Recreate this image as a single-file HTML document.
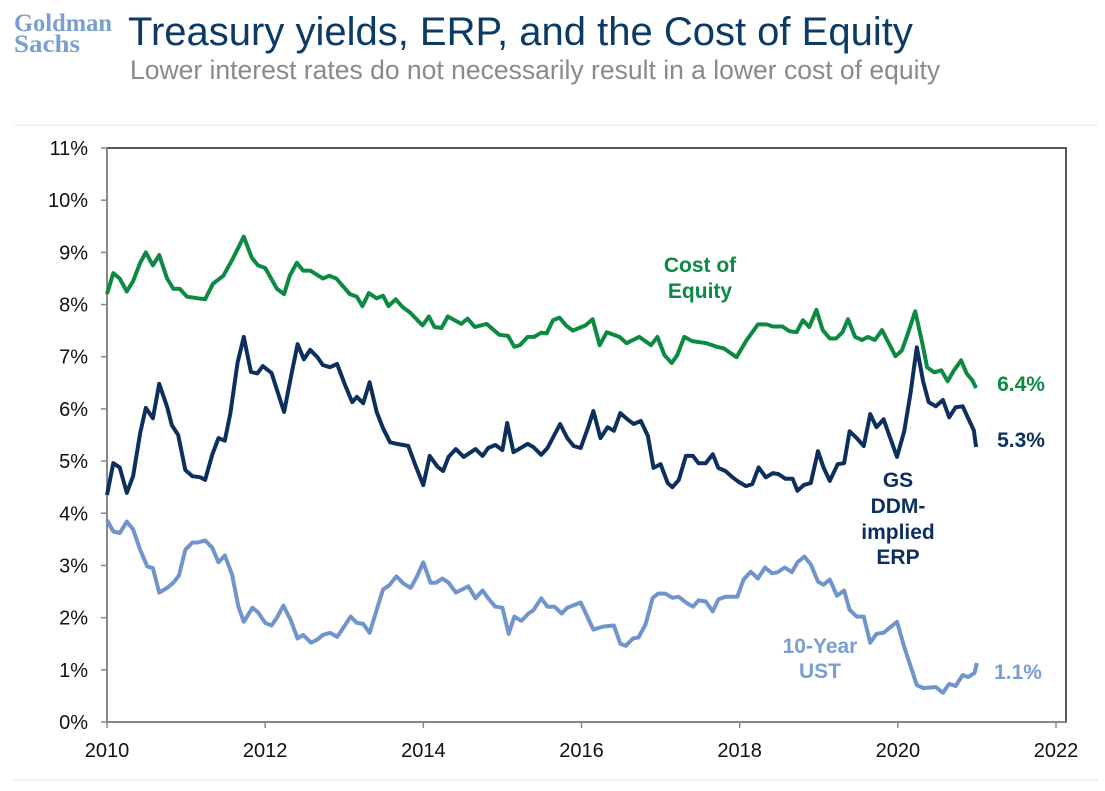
<!DOCTYPE html>
<html><head><meta charset="utf-8"><style>
body{margin:0;background:#fff;width:1105px;height:791px;overflow:hidden;font-family:"Liberation Sans",sans-serif;}
svg{display:block}
</style></head><body>
<svg id="chart" width="1105" height="791" xmlns="http://www.w3.org/2000/svg">
<g font-family="Liberation Serif,serif" font-weight="bold" fill="#7a9fcc" font-size="25">
<text x="14" y="31" textLength="98" lengthAdjust="spacingAndGlyphs">Goldman</text>
<text x="14" y="52" textLength="66" lengthAdjust="spacingAndGlyphs">Sachs</text>
</g>
<text x="128" y="45" font-size="40" fill="#0b3a67">Treasury yields, ERP, and the Cost of Equity</text>
<text x="130" y="79" font-size="26.5" fill="#8a8a8a">Lower interest rates do not necessarily result in a lower cost of equity</text>
<line x1="14" y1="125" x2="1097" y2="125" stroke="#d8c8d0" stroke-dasharray="1,1"/>
<line x1="14" y1="780" x2="1097" y2="780" stroke="#c8c8c8" stroke-dasharray="1,1"/>
<g id="axes"></g>
<g id="series"></g>
<g font-weight="bold" font-size="21" text-anchor="middle">
<text x="700" y="272" fill="#0c8a43">Cost of</text>
<text x="700" y="298" fill="#0c8a43">Equity</text>
<text x="1021" y="391" fill="#0c8a43">6.4%</text>
<text x="1021" y="447" fill="#0d2f5e">5.3%</text>
<text x="898" y="487" fill="#0d2f5e">GS</text>
<text x="898" y="513" fill="#0d2f5e">DDM-</text>
<text x="898" y="539" fill="#0d2f5e">implied</text>
<text x="898" y="564" fill="#0d2f5e">ERP</text>
<text x="820" y="653" fill="#7a9ed2">10-Year</text>
<text x="820" y="678" fill="#7a9ed2">UST</text>
<text x="1018" y="679" fill="#7a9ed2">1.1%</text>
</g>
</svg>
<script>
const yTicks=[0,1,2,3,4,5,6,7,8,9,10,11];
const xTicks=[2010,2012,2014,2016,2018,2020,2022];
const coeYears=[2010.00,2010.08,2010.16,2010.25,2010.33,2010.42,2010.49,2010.58,2010.66,2010.76,2010.84,2010.92,2011.01,2011.24,2011.34,2011.47,2011.58,2011.73,2011.83,2011.91,2012.0,2012.15,2012.24,2012.31,2012.4,2012.48,2012.57,2012.73,2012.81,2012.9,2013.07,2013.16,2013.23,2013.31,2013.41,2013.49,2013.56,2013.65,2013.74,2013.83,2013.99,2014.07,2014.14,2014.23,2014.31,2014.48,2014.56,2014.65,2014.8,2014.96,2015.07,2015.15,2015.22,2015.32,2015.4,2015.49,2015.56,2015.64,2015.72,2015.81,2015.89,2015.97,2016.05,2016.14,2016.23,2016.32,2016.48,2016.57,2016.73,2016.88,2016.96,2017.05,2017.14,2017.21,2017.3,2017.4,2017.58,2017.71,2017.8,2017.96,2018.08,2018.23,2018.34,2018.42,2018.54,2018.63,2018.72,2018.8,2018.88,2018.97,2019.05,2019.14,2019.22,2019.3,2019.37,2019.46,2019.55,2019.62,2019.71,2019.8,2019.97,2020.05,2020.12,2020.22,2020.31,2020.37,2020.46,2020.55,2020.63,2020.71,2020.8,2020.87,2020.94,2020.99];
const coeValues=[8.2,8.6,8.5,8.25,8.45,8.8,9.0,8.75,8.95,8.5,8.3,8.3,8.15,8.1,8.4,8.55,8.85,9.3,8.9,8.75,8.7,8.3,8.2,8.55,8.8,8.65,8.65,8.5,8.55,8.5,8.2,8.15,7.97,8.22,8.12,8.17,7.97,8.1,7.95,7.85,7.6,7.77,7.57,7.55,7.77,7.63,7.73,7.57,7.63,7.42,7.4,7.19,7.22,7.38,7.38,7.46,7.45,7.7,7.75,7.59,7.5,7.55,7.6,7.72,7.22,7.47,7.38,7.26,7.38,7.22,7.38,7.03,6.88,7.03,7.38,7.3,7.26,7.19,7.16,6.99,7.3,7.62,7.62,7.58,7.58,7.49,7.47,7.7,7.57,7.9,7.51,7.35,7.35,7.47,7.72,7.38,7.32,7.38,7.32,7.51,7.01,7.12,7.41,7.87,7.26,6.8,6.7,6.74,6.53,6.74,6.93,6.68,6.55,6.4];
const erpYears=[2010.0,2010.08,2010.16,2010.25,2010.33,2010.42,2010.49,2010.58,2010.66,2010.76,2010.82,2010.9,2010.99,2011.08,2011.18,2011.24,2011.33,2011.41,2011.49,2011.56,2011.65,2011.73,2011.82,2011.9,2011.97,2012.08,2012.24,2012.33,2012.41,2012.49,2012.57,2012.66,2012.73,2012.82,2012.91,2013.01,2013.1,2013.16,2013.24,2013.32,2013.41,2013.49,2013.58,2013.67,2013.81,2013.9,2014.0,2014.08,2014.18,2014.25,2014.32,2014.41,2014.51,2014.66,2014.75,2014.82,2014.91,2015.0,2015.06,2015.14,2015.32,2015.39,2015.49,2015.57,2015.73,2015.82,2015.9,2015.99,2016.08,2016.15,2016.24,2016.33,2016.41,2016.49,2016.58,2016.66,2016.75,2016.84,2016.91,2017.0,2017.09,2017.15,2017.23,2017.32,2017.41,2017.48,2017.57,2017.66,2017.73,2017.82,2017.91,2017.99,2018.08,2018.16,2018.24,2018.33,2018.42,2018.49,2018.58,2018.67,2018.73,2018.81,2018.9,2018.99,2019.06,2019.14,2019.24,2019.32,2019.39,2019.48,2019.57,2019.65,2019.73,2019.82,2019.9,2019.99,2020.08,2020.16,2020.24,2020.32,2020.39,2020.48,2020.57,2020.65,2020.73,2020.82,2020.89,2020.96,2020.99];
const erpValues=[4.35,4.96,4.88,4.39,4.71,5.54,6.02,5.82,6.48,6.04,5.69,5.5,4.83,4.71,4.69,4.64,5.12,5.44,5.39,5.92,6.88,7.38,6.71,6.68,6.82,6.69,5.94,6.65,7.24,6.95,7.13,6.99,6.84,6.8,6.86,6.46,6.13,6.23,6.11,6.51,5.94,5.63,5.36,5.33,5.29,4.92,4.54,5.1,4.89,4.81,5.08,5.23,5.08,5.23,5.1,5.25,5.31,5.21,5.73,5.17,5.33,5.27,5.12,5.25,5.71,5.44,5.29,5.25,5.63,5.96,5.44,5.65,5.58,5.92,5.8,5.71,5.77,5.48,4.87,4.94,4.58,4.5,4.64,5.1,5.1,4.96,4.96,5.13,4.87,4.81,4.69,4.6,4.52,4.56,4.88,4.69,4.77,4.75,4.66,4.66,4.43,4.54,4.58,5.19,4.88,4.62,4.94,4.96,5.57,5.44,5.29,5.9,5.65,5.8,5.46,5.08,5.57,6.3,7.18,6.53,6.13,6.05,6.17,5.84,6.03,6.05,5.82,5.59,5.27];
const ustYears=[2010.0,2010.08,2010.16,2010.25,2010.33,2010.42,2010.51,2010.58,2010.66,2010.76,2010.84,2010.91,2010.99,2011.08,2011.15,2011.24,2011.33,2011.41,2011.49,2011.58,2011.66,2011.73,2011.84,2011.91,2012.0,2012.08,2012.15,2012.23,2012.32,2012.41,2012.48,2012.58,2012.66,2012.73,2012.82,2012.91,2012.99,2013.08,2013.16,2013.24,2013.32,2013.41,2013.49,2013.57,2013.66,2013.75,2013.84,2013.92,2014.0,2014.09,2014.16,2014.24,2014.32,2014.41,2014.49,2014.57,2014.66,2014.75,2014.82,2014.91,2015.0,2015.08,2015.15,2015.24,2015.33,2015.39,2015.49,2015.57,2015.66,2015.75,2015.82,2015.99,2016.08,2016.15,2016.28,2016.41,2016.49,2016.56,2016.65,2016.72,2016.81,2016.9,2016.97,2017.06,2017.15,2017.23,2017.32,2017.41,2017.48,2017.57,2017.66,2017.73,2017.82,2017.97,2018.05,2018.14,2018.23,2018.32,2018.41,2018.48,2018.57,2018.66,2018.73,2018.82,2018.9,2018.99,2019.06,2019.14,2019.23,2019.32,2019.39,2019.48,2019.57,2019.65,2019.73,2019.82,2019.9,2019.99,2020.08,2020.24,2020.32,2020.48,2020.57,2020.65,2020.73,2020.82,2020.89,2020.97,2021.0];
const ustValues=[3.87,3.65,3.62,3.84,3.69,3.3,2.98,2.95,2.48,2.57,2.67,2.81,3.3,3.44,3.44,3.48,3.34,3.06,3.19,2.83,2.22,1.92,2.19,2.1,1.9,1.85,2.0,2.23,1.96,1.6,1.67,1.52,1.58,1.67,1.71,1.63,1.81,2.02,1.9,1.88,1.71,2.15,2.54,2.62,2.79,2.65,2.57,2.79,3.06,2.67,2.67,2.75,2.67,2.48,2.54,2.6,2.37,2.52,2.37,2.21,2.19,1.69,2.02,1.94,2.08,2.14,2.37,2.21,2.21,2.08,2.19,2.29,2.0,1.77,1.83,1.85,1.5,1.46,1.6,1.62,1.87,2.38,2.46,2.46,2.38,2.4,2.29,2.21,2.33,2.31,2.12,2.35,2.4,2.4,2.73,2.88,2.75,2.96,2.85,2.87,2.96,2.87,3.06,3.17,3.02,2.69,2.63,2.73,2.42,2.52,2.15,2.02,2.02,1.52,1.69,1.71,1.81,1.92,1.44,0.71,0.65,0.67,0.56,0.73,0.69,0.9,0.86,0.94,1.13];

const NS='http://www.w3.org/2000/svg';
const X0=107,X1=1056,Y0=722,Y1=148;
function xScale(yr){return X0+(yr-2010)/12*(X1-X0);}
function yScale(v){return Y0-v/11*(Y0-Y1);}
function mk(tag,attrs,parent){const e=document.createElementNS(NS,tag);for(const k in attrs)e.setAttribute(k,attrs[k]);parent.appendChild(e);return e;}
const axes=document.getElementById('axes');
const frame=mk('rect',{x:X0,y:Y1,width:1066-X0,height:Y0-Y1,fill:'none',stroke:'#222','stroke-width':1.5},axes);


const yAxis=mk('line',{x1:X0,y1:Y1,x2:X0,y2:Y0,stroke:'#888','stroke-width':2},axes);


const xAxis=mk('line',{x1:X0,y1:Y0,x2:1066,y2:Y0,stroke:'#888','stroke-width':2},axes);


yTicks.forEach(v=>{
  const y=yScale(v);
  const t=mk('line',{x1:X0-6,y1:y,x2:X0,y2:y,stroke:'#888','stroke-width':1.5},axes);
  
  
  const l=mk('text',{x:88,y:y+7,'text-anchor':'end','font-size':20,fill:'#111'},axes);
  l.textContent=v+'%';
  
  
});
xTicks.forEach(yr=>{
  const x=xScale(yr);
  const t=mk('line',{x1:x,y1:Y0,x2:x,y2:Y0+6,stroke:'#888','stroke-width':1.5},axes);
  
  
  const l=mk('text',{x:x,y:757,'text-anchor':'middle','font-size':20,fill:'#111'},axes);
  l.textContent=yr;
  
  
});
const ser=document.getElementById('series');
function line(xs,vs,color,name){
  const d=xs.map((x,i)=>(i?'L':'M')+xScale(x).toFixed(1)+','+yScale(vs[i]).toFixed(1)).join('');
  const p=mk('path',{d:d,fill:'none',stroke:color,'stroke-width':4,'stroke-linejoin':'round'},ser);
  
  
}
line(ustYears,ustValues,'#6f95cc','ust-10y-line');
line(erpYears,erpValues,'#0d2f5e','erp-line');
line(coeYears,coeValues,'#0c8a43','cost-of-equity-line');
</script>
</body></html>
